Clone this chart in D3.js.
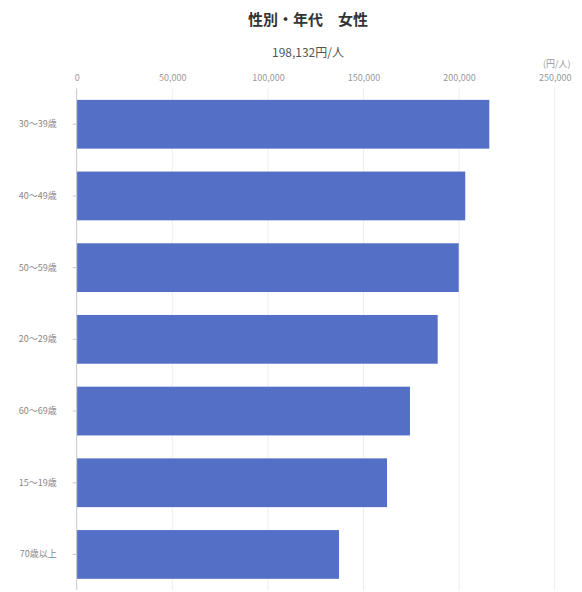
<!DOCTYPE html>
<html><head><meta charset="utf-8">
<script src="https://cdn.jsdelivr.net/npm/d3@7"></script>
<style>body{margin:0;background:#fff;}svg{display:block;}</style>
</head><body>
<script>
const categories = ["30〜39歳","40〜49歳","50〜59歳","20〜29歳","60〜69歳","15〜19歳","70歳以上"];
const values = [215800, 203200, 199800, 188800, 174300, 162300, 137200];
const xTicks = [0, 50000, 100000, 150000, 200000, 250000];
const title = "性別・年代　女性";
const subtitle = "198,132円/人";
const unitLabel = "(円/人)";

const W = 582, H = 592;
const font = "'Noto Sans CJK JP','Noto Sans',sans-serif";
const svg = d3.select("body").append("svg").attr("width", W).attr("height", H);

const x = d3.scaleLinear().domain([0, 250000]).range([76.7, 554.7]);
const y = d3.scaleBand().domain(categories).range([88.4, 590.3]).paddingInner(0.32).paddingOuter(0.16);

svg.append("text").attr("x", 308).attr("y", 25).attr("text-anchor", "middle")
  .attr("font-family", font).attr("font-weight", "bold").attr("font-size", 15).attr("fill", "#333").text(title);
svg.append("text").attr("x", 308).attr("y", 57).attr("text-anchor", "middle")
  .attr("font-family", font).attr("font-size", 12).attr("fill", "#555").text(subtitle);
svg.append("text").attr("x", x(250000)+2).attr("y", 67).attr("text-anchor", "middle")
  .attr("font-family", font).attr("font-size", 9).attr("fill", "#999").text(unitLabel);

// gridlines
svg.append("g").selectAll("line").data(xTicks.slice(1)).join("line")
  .attr("x1", d => x(d)).attr("x2", d => x(d)).attr("y1", 88.4).attr("y2", 590.3)
  .attr("stroke", "#eceef3").attr("stroke-width", 1);

// top axis labels
const xAxis = d3.axisTop(x).tickValues(xTicks).tickSize(0).tickPadding(0)
  .tickFormat(d3.format(","));
const gx = svg.append("g").attr("transform", "translate(0,81)").call(xAxis);
gx.select(".domain").remove();
gx.selectAll("text").attr("font-family", font).attr("font-size", 9).attr("fill", "#999").attr("dy", 0);

// bars
svg.append("g").selectAll("rect").data(values).join("rect")
  .attr("x", x(0)).attr("y", (d, i) => y(categories[i]))
  .attr("width", d => x(d) - x(0)).attr("height", y.bandwidth())
  .attr("fill", "#5470c6");

// y axis
const yAxis = d3.axisLeft(y).tickSize(4).tickPadding(16);
const gy = svg.append("g").attr("transform", `translate(${x(0)},0)`).call(yAxis);
gy.select(".domain").attr("stroke", "#c8c8c8").attr("d", `M0,88.4V590.3`);
gy.selectAll(".tick line").attr("stroke", "#c8c8c8");
gy.selectAll("text").attr("font-family", font).attr("font-size", 9).attr("fill", "#888");
</script>
</body></html>
